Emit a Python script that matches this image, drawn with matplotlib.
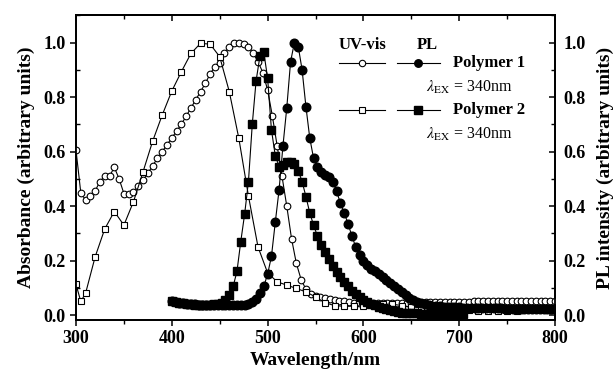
import numpy as np
import matplotlib
matplotlib.use("Agg")
import matplotlib.pyplot as plt
from matplotlib.ticker import MultipleLocator
from matplotlib.lines import Line2D

plt.rcParams['font.family'] = ['Liberation Serif', 'DejaVu Serif']
plt.rcParams['mathtext.fontset'] = 'stix'

# ---------------- data ----------------
p1_uv_x = np.arange(300, 801, 5)
p1_uv_y = [
    .605, .449, .422, .437, .456, .490, .510, .510, .542, .500,
    .446, .443, .452, .473, .495, .520, .548, .575, .600, .625,
    .650, .675, .700, .730, .760, .790, .820, .850, .885, .912,
    .924, .960, .985, .997, 1.00, .995, .985, .960, .930, .890,
    .826, .730, .620, .510, .400, .280, .190, .130, .095, .078,
    .070, .065, .062, .058, .055, .052, .050, .047, .045, .044,
    .043, .043, .043, .043, .044, .044, .044, .045, .045, .045,
    .046, .046, .046, .047, .047, .047, .048, .048, .048, .049,
    .049, .049, .049, .050, .050, .050, .050, .050, .051, .051,
    .051, .051, .051, .052, .052, .052, .052, .052, .052, .053,
    .053,
]

p2_uv_x = [300, 305, 310, 320, 330, 340, 350, 360, 370, 380, 390, 400, 410,
           420, 430, 440, 450, 460, 470, 480, 490, 500, 510, 520, 530, 540,
           550, 560, 570, 580, 590, 600, 610, 620, 630, 640, 650, 660, 670,
           680, 690, 700, 710, 720, 730, 740, 750, 760]
p2_uv_y = [.113, .050, .080, .214, .316, .380, .330, .416, .526, .638, .734,
           .822, .893, .960, .997, .994, .948, .820, .648, .437, .250, .155,
           .122, .110, .098, .085, .067, .045, .035, .032, .033, .035, .038,
           .040, .040, .035, .030, .027, .024, .021, .019, .018, .017, .016,
           .015, .015, .015, .015]

p1_pl_x = np.arange(400, 801, 4)
p1_pl_y = [
    .050, .048, .046, .044, .042, .040, .039, .038, .037, .036,
    .036, .036, .036, .036, .036, .036, .036, .036, .037, .038,
    .041, .047, .058, .080, .105, .150, .215, .340, .460, .620,
    .760, .930, 1.00, .985, .900, .765, .650, .575, .545, .525,
    .515, .505, .490, .455, .410, .375, .335, .290, .250, .220,
    .198, .182, .170, .160, .150, .141, .130, .118, .106, .095,
    .084, .073, .064, .056, .049, .044, .040, .037, .035, .033,
    .032, .031, .030, .029, .028, .028, .027, .027, .026, .026,
    .026, .025, .025, .025, .025, .025, .025, .024, .024, .024,
    .024, .024, .024, .024, .024, .024, .024, .024, .024, .024,
    .024,
]

p2_pl_x = np.arange(400, 705, 4)
p2_pl_y = [
    .050, .048, .046, .044, .042, .040, .038, .037, .037, .037,
    .038, .040, .042, .046, .055, .075, .105, .160, .270, .370,
    .490, .700, .860, .950, .965, .870, .680, .585, .545, .550,
    .562, .563, .555, .530, .490, .435, .375, .330, .290, .258,
    .232, .205, .180, .157, .140, .122, .105, .090, .078, .066,
    .057, .049, .042, .036, .031, .026, .022, .018, .014, .011,
    .009, .008, .007, .006, .006, .005, .005, .005, .005, .005,
    .005, .005, .005, .005, .005, .005, .005,
]

x_ticks = [300, 400, 500, 600, 700, 800]
y_ticks = [0.0, 0.2, 0.4, 0.6, 0.8, 1.0]

# ---------------- figure ----------------
fig = plt.figure(figsize=(6.16, 3.79), dpi=100)
ax = fig.add_axes([76/616, (379-320)/379, (555-76)/616, (320-15)/379])
ax2 = ax.twinx()

lw = 0.8
ax.plot(p1_uv_x, p1_uv_y, '-', color='black', lw=lw, marker='o', ms=4.8,
        mfc='white', mec='black', mew=0.8, zorder=3)
ax.plot(p2_uv_x, p2_uv_y, '-', color='black', lw=lw, marker='s', ms=5.0,
        mfc='white', mec='black', mew=0.8, zorder=3)
ax2.plot(p1_pl_x, p1_pl_y, '-', color='black', lw=lw, marker='o', ms=6.2,
         mfc='black', mec='black', zorder=4)
ax2.plot(p2_pl_x, p2_pl_y, '-', color='black', lw=lw, marker='s', ms=5.4,
         mfc='black', mec='black', zorder=4)

for a in (ax, ax2):
    a.set_xlim(300, 800)
    a.set_ylim(-0.018, 1.101)
    for s in a.spines.values():
        s.set_linewidth(1.3)

ax.set_xticks(x_ticks)
ax.xaxis.set_minor_locator(MultipleLocator(50))
ax.set_yticks(y_ticks)
ax.yaxis.set_minor_locator(MultipleLocator(0.1))
ax2.set_yticks(y_ticks)
ax2.yaxis.set_minor_locator(MultipleLocator(0.1))

tick_font = dict(fontsize=13, fontweight='bold')
ax.set_xticklabels([str(v) for v in x_ticks], **tick_font)
ax.set_yticklabels([f"{v:.1f}" for v in y_ticks], **tick_font)
ax2.set_yticklabels([f"{v:.1f}" for v in y_ticks], **tick_font)

ax.tick_params(axis='x', which='major', direction='out', length=4, width=1.1,
               top=False, pad=3)
ax.tick_params(axis='x', which='minor', direction='out', length=3, width=1.0,
               top=False)
ax.tick_params(axis='y', which='major', direction='out', length=4, width=1.1,
               right=False)
ax.tick_params(axis='y', which='minor', direction='in', length=3, width=1.0,
               right=False)
ax2.tick_params(axis='y', which='major', direction='in', length=4, width=1.1,
                pad=6)
ax2.tick_params(axis='y', which='minor', direction='in', length=3, width=1.0)

# top axis ticks pointing inward, no labels
top = ax.secondary_xaxis('top')
top.set_xticks(x_ticks)
top.xaxis.set_minor_locator(MultipleLocator(50))
top.tick_params(which='major', direction='in', length=4, width=1.1,
                labeltop=False)
top.tick_params(which='minor', direction='in', length=3, width=1.0)
top.spines['top'].set_linewidth(1.3)

label_font = dict(fontsize=14, fontweight='bold')
ax.set_xlabel('Wavelength/nm', labelpad=4, **label_font)
ax.set_ylabel('Absorbance (arbitrary units)', labelpad=6, **label_font)
ax2.set_ylabel('PL intensity (arbitrary units)', labelpad=8, **label_font)

# ---------------- legend (manual) ----------------
T = ax.transAxes
leg_font = dict(fontsize=12, fontweight='bold', transform=T, va='center')
ax.text(0.599, 0.902, 'UV-vis', ha='center', **leg_font)
ax.text(0.733, 0.902, 'PL', ha='center', **leg_font)

rows = [(0.843, 'o', 'Polymer 1', 0.761), (0.689, 's', 'Polymer 2', 0.607)]
for y, m, name, ly in rows:
    ax.add_line(Line2D([0.549, 0.645], [y, y], transform=T, color='black',
                       lw=lw, clip_on=False))
    ax.add_line(Line2D([0.597], [y], transform=T, color='black', marker=m,
                       ms=4.6, mfc='white', mec='black', mew=0.8, clip_on=False))
    ax.add_line(Line2D([0.670, 0.760], [y, y], transform=T, color='black',
                       lw=lw, clip_on=False))
    ax.add_line(Line2D([0.714], [y], transform=T, color='black', marker=m,
                       ms=5.4, mfc='black', mec='black', clip_on=False))
    ax.text(0.787, y, name, ha='left', **leg_font)
    ax.text(0.730, ly, r'$\lambda_{\rm EX}$ = 340nm', ha='left', va='center',
            fontsize=11.5, transform=T)

fig.savefig('out.png', dpi=100)
